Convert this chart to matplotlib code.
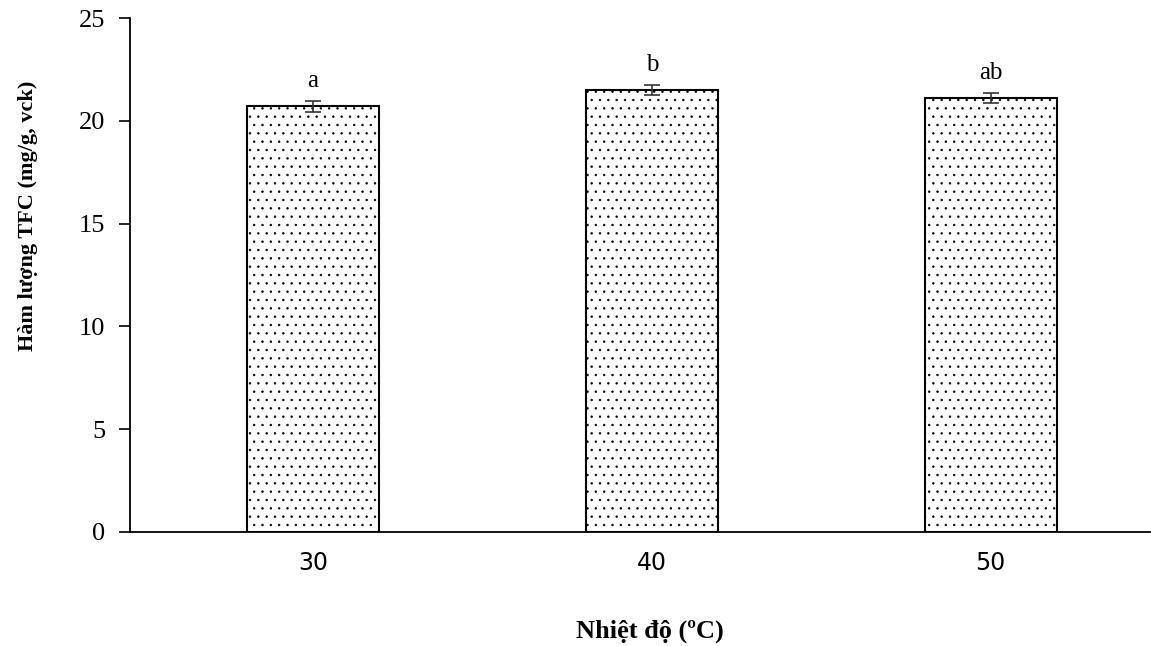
import matplotlib
matplotlib.use("Agg")
import matplotlib.pyplot as plt

# data
temps = ["30", "40", "50"]
tfc = [20.7, 21.5, 21.1]
err = [0.25, 0.25, 0.25]
letters = ["a", "b", "ab"]

plt.rcParams['hatch.linewidth'] = 0.5
plt.rcParams['hatch.color'] = '#333333'

fig = plt.figure(figsize=(11.51, 6.46), dpi=100)
ax = fig.add_axes([0.113, 0.1765, 0.886, 0.7955])

x = range(len(temps))
ax.bar(x, tfc, width=0.39, color='white', edgecolor='black', linewidth=1.5,
       hatch='..', yerr=err, capsize=6,
       error_kw=dict(ecolor='#333333', elinewidth=1.2, capthick=1.2))

for i, (v, e, s) in enumerate(zip(tfc, err, letters)):
    ax.text(i, v + e + 0.45, s, ha='center', va='bottom',
            fontsize=18, family='Liberation Serif')

ax.set_xlim(-0.54, 2.47)
ax.set_ylim(0, 25)
ax.set_yticks([0, 5, 10, 15, 20, 25])
ax.set_xticks(list(x))
ax.set_xticklabels(temps)

for sp in ['top', 'right']:
    ax.spines[sp].set_visible(False)
ax.spines['left'].set_linewidth(1.3)
ax.spines['bottom'].set_linewidth(1.3)

ax.tick_params(axis='x', length=0, pad=14, labelsize=17)
ax.tick_params(axis='y', direction='out', length=8, width=1.2, pad=10, labelsize=19)
for lab in ax.get_yticklabels():
    lab.set_family('Liberation Serif')

ax.set_ylabel('Hàm lượng TFC (mg/g, vck)', family='Liberation Serif',
              fontweight='bold', fontsize=16)
ax.yaxis.set_label_coords(-0.09, 0.615)
ax.set_xlabel('Nhiệt độ (ºC)', family='Liberation Serif',
              fontweight='bold', fontsize=19)
ax.xaxis.set_label_coords(0.51, -0.17)

fig.savefig('out.png', dpi=100)
